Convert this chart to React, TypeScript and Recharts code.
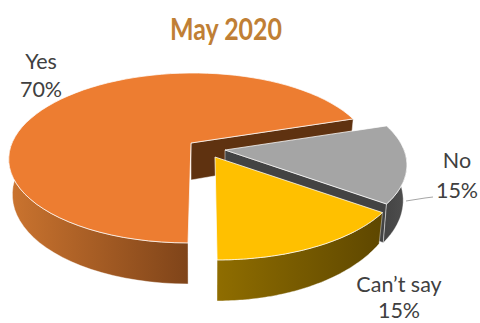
import React from 'react';
import { PieChart, Pie } from 'recharts';

const categories = ['Yes', 'No', "Can\u2019t say"];
const shares = [70, 15, 15];
const chartTitle = 'May 2020';

const tableData = categories.map((name, i) => ({ name, value: shares[i] }));

// Perspective of the tilted disc
const FLATTEN = 0.46;
const PERSPECTIVE = 0.176;
const BOTTOM_SCALE = 0.98;

// Per slice look: explode offset, rim depth, colours
const SLICE_STYLE = [
  { dx: 0, dy: 0, scale: 1, skew: -0.03, far: 34, near: 41, top: '#ED7D31', wall: '#5F3210', sideFrom: '#CB742F', sideTo: '#7F4419', endWall: true },
  { dx: 34, dy: 7, scale: 1, skew: 0, far: 34, near: 42, top: '#A5A5A5', wall: '#434343', sideFrom: '#434343', sideTo: '#4F4F4F', endWall: true },
  { dx: 24, dy: 14, scale: 1.03, skew: 0.02, far: 17, near: 41, top: '#FFC000', wall: '#5F4800', sideFrom: '#8F6D00', sideTo: '#5E4700', endWall: false },
];

const LABEL_SPOTS = [
  { x: 41, y: 69, gap: 28 },
  { x: 457, y: 168, gap: 30 },
  { x: 399, y: 292, gap: 26 },
];

const toPath = (pts: number[][]) => pts.map((p, i) => `${i ? 'L' : 'M'}${p[0].toFixed(1)} ${p[1].toFixed(1)}`).join(' ') + ' Z';

const Slice3D = (props: any) => {
  const { cx, cy, outerRadius, startAngle, endAngle, index } = props;
  const st = SLICE_STYLE[index];
  const ox = cx + st.dx;
  const oy = cy + st.dy;
  const radius = outerRadius * st.scale;

  const topPoint = (deg: number) => {
    const a = (deg * Math.PI) / 180;
    const s = 1 / (1 + PERSPECTIVE * Math.sin(a));
    const y = oy - radius * FLATTEN * Math.sin(a) * s;
    const x = ox + radius * Math.cos(a) * s + st.skew * (y - oy);
    return [x, y];
  };
  const lowPoint = (deg: number) => {
    const p = topPoint(deg);
    const v = Math.sin((deg * Math.PI) / 180);
    const depth = st.far + (st.near - st.far) * Math.max(0, -v);
    return [ox + (p[0] - ox) * BOTTOM_SCALE, p[1] + depth];
  };

  const steps = 72;
  const rimAngles: number[] = [];
  for (let i = 0; i <= steps; i++) rimAngles.push(startAngle + ((endAngle - startAngle) * i) / steps);
  const rim = rimAngles.map(topPoint);

  const lower = rimAngles.filter(a => Math.sin((a * Math.PI) / 180) < 0.05);
  const band = [...lower.map(topPoint), ...lower.slice().reverse().map(lowPoint)];

  const apexLow = [ox, oy + st.far + 3];
  const gradId = `side-${index}`;

  return (
    <g>
      <defs>
        <linearGradient id={gradId} x1="0" y1="0" x2="1" y2="0">
          <stop offset="0%" stopColor={st.sideFrom} />
          <stop offset="100%" stopColor={st.sideTo} />
        </linearGradient>
      </defs>
      {st.endWall && (
        <path
          d={toPath([[ox, oy], topPoint(endAngle), lowPoint(endAngle), apexLow])}
          fill={st.wall}
          stroke="#ffffff"
          strokeOpacity={0.6}
          strokeWidth={0.8}
        />
      )}
      {band.length > 0 && (
        <path d={toPath(band)} fill={`url(#${gradId})`} stroke="#ffffff" strokeOpacity={0.5} strokeWidth={0.8} />
      )}
      <path d={toPath([[ox, oy], ...rim])} fill={st.top} stroke="#ffffff" strokeOpacity={0.75} strokeWidth={1} />
    </g>
  );
};

const SliceLabel = (props: any) => {
  const { index, name, value } = props;
  const spot = LABEL_SPOTS[index];
  return (
    <g>
      {index === 1 && <polyline points="406,201 425,198 433,197" fill="none" stroke="#A6A6A6" strokeWidth={1} />}
      <text x={spot.x} y={spot.y} textAnchor="middle" fontFamily="Lato" fontSize={21.5} fill="#404040">
        {name}
      </text>
      <text x={spot.x} y={spot.y + spot.gap} textAnchor="middle" fontFamily="Lato" fontSize={21.5} fill="#404040">
        {`${value}%`}
      </text>
    </g>
  );
};

export default function App() {
  return (
    <div style={{ position: 'absolute', left: 0, top: 0, width: 480, height: 323 }}>
      <PieChart width={480} height={323} margin={{ top: 0, right: 0, bottom: 0, left: 0 }}>
        <text x={226} y={40} textAnchor="middle" fontFamily="Lato" fontWeight={700} fontSize={30} textLength={112} lengthAdjust="spacingAndGlyphs" fill="#C07F35">
          {chartTitle}
        </text>
        <Pie
          data={tableData}
          dataKey="value"
          nameKey="name"
          cx={191}
          cy={143}
          innerRadius={0}
          outerRadius={179}
          startAngle={270}
          endAngle={-90}
          stroke="none"
          isAnimationActive={false}
          shape={Slice3D}
          label={SliceLabel}
          labelLine={false}
        />
      </PieChart>
    </div>
  );
}
